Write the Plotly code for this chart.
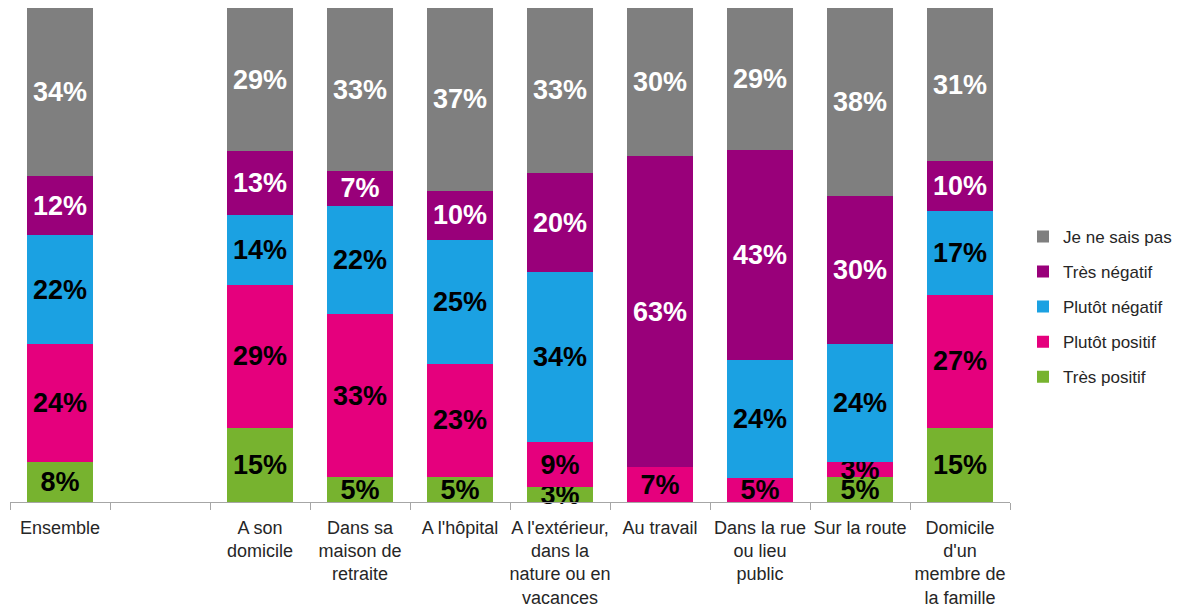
import plotly.graph_objects as go

categories = [
    "Ensemble",
    " ",
    "A son<br>domicile",
    "Dans sa<br>maison de<br>retraite",
    "A l'hôpital",
    "A l'extérieur,<br>dans la<br>nature ou en<br>vacances",
    "Au travail",
    "Dans la rue<br>ou lieu<br>public",
    "Sur la route",
    "Domicile<br>d'un<br>membre de<br>la famille",
]

tres_positif = [8, None, 15, 5, 5, 3, 0, 0, 5, 15]
plutot_positif = [24, None, 29, 33, 23, 9, 7, 5, 3, 27]
plutot_negatif = [22, None, 14, 22, 25, 34, 0, 24, 24, 17]
tres_negatif = [12, None, 13, 7, 10, 20, 63, 43, 30, 10]
ne_sais_pas = [34, None, 29, 33, 37, 33, 30, 29, 38, 31]

# (name, values, fill colour, label colour, legend rank)
series = [
    ("Très positif", tres_positif, "#77B32F", "#000000", 5),
    ("Plutôt positif", plutot_positif, "#E5007D", "#000000", 4),
    ("Plutôt négatif", plutot_negatif, "#1BA1E2", "#000000", 3),
    ("Très négatif", tres_negatif, "#99007A", "#FFFFFF", 2),
    ("Je ne sais pas", ne_sais_pas, "#7F7F7F", "#FFFFFF", 1),
]

TEXT_FONT = "Liberation Sans, Arial, sans-serif"
LABEL_SIZE = 27

fig = go.Figure()
for name, values, color, text_color, rank in series:
    labels = [f"<b>{v}%</b>" if v else "" for v in values]
    fig.add_trace(go.Bar(
        name=name,
        x=categories,
        y=values,
        marker=dict(color=color, line=dict(width=0)),
        text=labels,
        texttemplate="%{text}",
        textposition="inside",
        insidetextanchor="middle",
        textangle=0,
        insidetextfont=dict(family=TEXT_FONT, size=LABEL_SIZE, color=text_color),
        cliponaxis=False,
        legendgroup=name,
        legendrank=rank,
        hoverinfo="skip",
    ))

fig.update_layout(
    width=1177,
    height=611,
    barmode="stack",
    barnorm="percent",
    bargap=0.34,
    paper_bgcolor="#FFFFFF",
    plot_bgcolor="#FFFFFF",
    margin=dict(l=10, r=167, t=8, b=109, autoexpand=False),
    uniformtext=dict(minsize=LABEL_SIZE, mode="show"),
    font=dict(family=TEXT_FONT, size=17, color="#262626"),
    legend=dict(
        traceorder="grouped",
        tracegroupgap=10,
        x=1.013,
        y=0.395,
        yanchor="middle",
        xanchor="left",
        font=dict(family=TEXT_FONT, size=17, color="#262626"),
        itemwidth=30,
        bgcolor="rgba(0,0,0,0)",
    ),
    xaxis=dict(
        type="category",
        range=[-0.5, 9.5],
        showline=True,
        linecolor="#A6A6A6",
        linewidth=1,
        ticks="outside",
        tickson="boundaries",
        ticklen=7,
        tickcolor="#A6A6A6",
        tickangle=0,
        ticklabelstandoff=9,
        automargin=False,
        tickfont=dict(family=TEXT_FONT, size=18, color="#262626"),
        showgrid=False,
        zeroline=False,
        fixedrange=True,
    ),
    yaxis=dict(
        range=[0, 100],
        visible=False,
        showgrid=False,
        zeroline=False,
        fixedrange=True,
    ),
)

fig.write_html("out.html")
